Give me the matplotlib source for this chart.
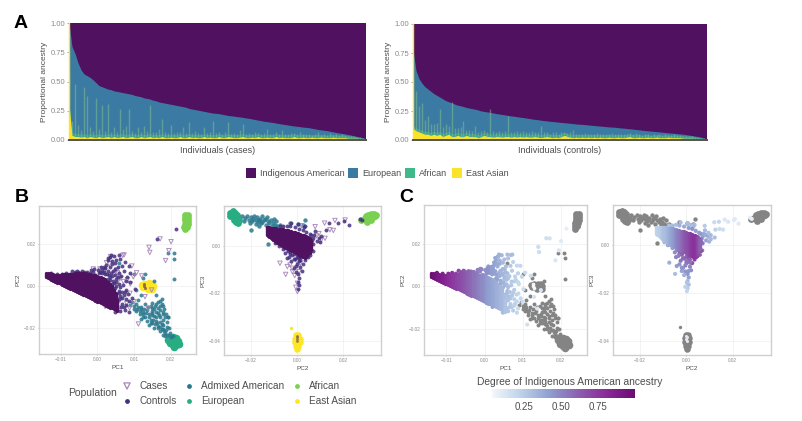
import matplotlib
matplotlib.use("Agg")
import matplotlib.pyplot as plt
from matplotlib.colors import LinearSegmentedColormap, Normalize
from matplotlib.cm import ScalarMappable
from matplotlib.patches import Rectangle

plt.rcParams['font.family'] = ['Liberation Sans', 'DejaVu Sans']

# panel A, one value per binned individual
cases_total = [1.00,.80,.74,.66,.60,.565,.55,.535,.515,.49,
    .465,.455,.445,.435,.43,.42,.415,.41,.405,.40,
    .395,.39,.38,.375,.37,.36,.355,.35,.34,.335,
    .325,.32,.315,.31,.305,.30,.295,.29,.285,.28,
    .27,.265,.26,.255,.25,.245,.24,.235,.23,.228,
    .225,.22,.215,.21,.207,.204,.20,.197,.193,.189,
    .185,.18,.175,.17,.165,.16,.157,.153,.15,.145,
    .14,.136,.132,.128,.124,.12,.117,.114,.11,.108,
    .105,.10,.096,.09,.087,.083,.08,.075,.07,.065,
    .06,.056,.052,.047,.042,.036,.03,.024,.018,.01]
cases_african = [.30,.12,.45,.10,.06,.42,.36,.08,.05,.34,
    .06,.28,.05,.28,.05,.08,.05,.24,.06,.10,
    .24,.05,.04,.09,.04,.10,.05,.27,.05,.04,
    .07,.15,.05,.04,.10,.04,.05,.04,.09,.04,
    .12,.04,.05,.04,.03,.08,.04,.04,.14,.04,
    .04,.03,.05,.12,.03,.04,.03,.06,.11,.03,
    .04,.03,.05,.03,.03,.04,.07,.03,.03,.04,
    .03,.06,.03,.03,.04,.03,.03,.05,.03,.03,
    .03,.02,.03,.05,.02,.03,.02,.04,.02,.03,
    .02,.03,.02,.02,.02,.015,.012,.01,.006,.002]
cases_east_asian = [.30,.04,.03,.03,.025,.03,.02,.03,.025,.02,
    .03,.02,.025,.03,.02,.03,.02,.025,.03,.02,
    .025,.03,.02,.02,.03,.02,.025,.03,.02,.025,
    .02,.03,.02,.02,.025,.02,.02,.03,.02,.02,
    .03,.02,.025,.02,.02,.03,.02,.025,.02,.02,
    .03,.02,.02,.03,.025,.02,.02,.025,.03,.02,
    .02,.025,.02,.03,.02,.02,.025,.02,.02,.03,
    .02,.025,.02,.02,.02,.03,.02,.02,.025,.02,
    .02,.025,.02,.02,.025,.02,.02,.02,.025,.02,
    .02,.02,.02,.015,.015,.015,.015,.012,.01,.008]

controls_total = [.78,.60,.53,.49,.46,.44,.42,.40,.385,.37,
    .355,.34,.33,.32,.31,.30,.295,.288,.28,.275,
    .27,.265,.258,.25,.246,.242,.238,.233,.228,.224,
    .22,.216,.212,.208,.205,.201,.197,.194,.19,.186,
    .182,.178,.175,.171,.168,.165,.162,.159,.157,.154,
    .151,.149,.146,.144,.141,.138,.136,.135,.132,.13,
    .127,.125,.122,.12,.118,.115,.113,.111,.11,.107,
    .104,.102,.099,.097,.094,.091,.088,.085,.082,.08,
    .077,.075,.072,.07,.067,.065,.062,.06,.057,.055,
    .052,.05,.046,.042,.038,.034,.03,.024,.016,.005]
controls_african = [.30,.34,.22,.26,.12,.16,.10,.09,.11,.22,
    .08,.10,.07,.30,.07,.06,.08,.13,.05,.06,
    .05,.09,.05,.05,.05,.04,.24,.05,.04,.05,
    .04,.05,.18,.04,.04,.05,.04,.05,.04,.04,
    .05,.04,.04,.10,.04,.04,.03,.05,.04,.03,
    .04,.03,.03,.04,.07,.03,.03,.03,.04,.03,
    .03,.03,.04,.03,.03,.03,.03,.04,.03,.03,
    .03,.03,.03,.03,.03,.04,.03,.02,.03,.03,
    .02,.03,.02,.03,.02,.03,.02,.02,.03,.02,
    .02,.02,.02,.02,.02,.015,.012,.01,.006,.001]
controls_east_asian = [.10,.08,.07,.06,.05,.05,.04,.05,.04,.05,
    .03,.04,.05,.03,.03,.04,.03,.03,.04,.03,
    .03,.03,.02,.03,.04,.03,.03,.025,.03,.03,
    .025,.03,.03,.025,.03,.025,.03,.025,.03,.025,
    .025,.03,.025,.02,.025,.03,.025,.02,.025,.02,
    .03,.04,.03,.025,.02,.025,.02,.025,.02,.025,
    .02,.025,.02,.025,.02,.02,.025,.02,.02,.025,
    .02,.02,.025,.03,.02,.02,.025,.02,.02,.025,
    .02,.02,.025,.02,.02,.02,.025,.02,.02,.02,
    .02,.015,.015,.015,.015,.012,.012,.01,.008,.004]

# dense part of the PC1/PC2 cloud: pc1, low pc2, high pc2, ancestry
band12_x = [-.0140,-.0135,-.0130,-.0125,-.0120,-.0115,-.0110,-.0105,-.0100,-.0095,-.0090,-.0085,-.0080,-.0075,-.0070,-.0065,-.0060,-.0055,-.0050,-.0045,-.0040,-.0035,-.0030,-.0025,-.0020,-.0015,-.0010,-.0005,.0000,.0005,.0010,.0015,.0020,.0025,.0030,.0035,.0040,.0045,.0050,.0055]
band12_low = [.0042,.0036,.0032,.0027,.0024,.0020,.0016,.0012,.0008,.0003,.0000,-.0004,-.0008,-.0012,-.0016,-.0020,-.0024,-.0029,-.0033,-.0037,-.0041,-.0045,-.0049,-.0053,-.0058,-.0062,-.0066,-.0070,-.0074,-.0078,-.0082,-.0086,-.0090,-.0095,-.0099,-.0103,-.0107,-.0112,-.0116,-.0120]
band12_high = [.0062,.0062,.0060,.0057,.0055,.0054,.0053,.0053,.0054,.0055,.0056,.0056,.0057,.0058,.0058,.0059,.0060,.0060,.0060,.0060,.0060,.0060,.0060,.0058,.0056,.0054,.0052,.0050,.0048,.0045,.0042,.0038,.0032,.0026,.0018,.0008,-.0002,-.0018,-.0035,-.0065]
band12_anc = [.98,.96,.94,.92,.90,.88,.86,.84,.82,.80,.78,.76,.74,.72,.70,.69,.67,.65,.63,.62,.60,.58,.56,.55,.53,.51,.49,.48,.46,.44,.42,.41,.39,.38,.36,.35,.33,.32,.30,.28]

# dense part of the PC2/PC3 cloud
band23_x = [-.0130,-.0125,-.0120,-.0115,-.0110,-.0105,-.0100,-.0095,-.0090,-.0085,-.0080,-.0075,-.0070,-.0065,-.0060,-.0055,-.0050,-.0045,-.0040,-.0035,-.0030,-.0025,-.0020,-.0015,-.0010,-.0005,.0000,.0005,.0010,.0015,.0020,.0025,.0030,.0035,.0040,.0045,.0050,.0055,.0060]
band23_low = [.0046,.0042,.0038,.0034,.0030,.0026,.0023,.0020,.0016,.0012,.0009,.0006,.0002,.0000,-.0002,-.0005,-.0007,-.0010,-.0012,-.0014,-.0016,-.0018,-.0021,-.0024,-.0027,-.0030,-.0033,-.0036,-.0039,-.0042,-.0044,-.0046,-.0048,-.0049,-.0048,-.0044,-.0036,-.0028,-.0016]
band23_high = [.0078,.0078,.0078,.0077,.0077,.0076,.0075,.0075,.0074,.0073,.0073,.0072,.0072,.0071,.0070,.0069,.0068,.0066,.0065,.0064,.0062,.0061,.0060,.0059,.0058,.0056,.0054,.0053,.0051,.0049,.0048,.0046,.0044,.0042,.0040,.0038,.0036,.0032,.0020]
band23_anc = [.22,.22,.24,.24,.26,.27,.29,.30,.31,.33,.34,.36,.38,.40,.42,.44,.46,.48,.50,.52,.54,.56,.58,.60,.62,.64,.66,.68,.70,.72,.74,.76,.78,.78,.76,.72,.68,.64,.60]
core23 = [(.0018,-.0010),(.0025,-.0005),(.0032,-.0002),(.0040,.0002),(.0048,.0000),(.0022,-.0020),(.0030,-.0015),(.0038,-.0012),(.0046,-.0010),(.0028,-.0028),(.0036,-.0025),(.0044,-.0022),(.0034,-.0035),(.0042,-.0032),(.0028,.0008),(.0036,.0010),(.0020,.0004)]

# (pc1, pc2, ancestry)
controls12 = [(-.0125,.0062,.9),(-.011,.0058,.85),(-.0095,.0058,.8),(-.0085,.0062,.78),(-.0075,.0058,.72),(-.0068,.0072,.7),(-.0055,.0072,.65),(-.0048,.0063,.62),(-.0035,.0068,.58),(-.0028,.0066,.55),
    (-.0018,.0076,.52),(-.0008,.0079,.5),(.0002,.0075,.47),(.0012,.0078,.45),(.0022,.0084,.42),(.0028,.0070,.4),(.0038,.0062,.35),(.0048,.0080,.32),(.0056,.0092,.3),(.0075,.0113,.22),
    (.0085,.0096,.2),(.0065,.0046,.28),(.0052,.0035,.32),(.0035,.0045,.37),(.0020,.0055,.42),(.0005,.0060,.46),(-.0005,.0052,.48),(.0045,.0015,.34),(.0058,.0008,.3),(.0070,.0004,.27),
    (.0048,-.0008,.33),(.0060,-.0022,.3),(.0072,-.0045,.27),(.0055,-.0075,.29),(.0068,-.0085,.25),(.0078,-.0062,.23),(.0085,-.0072,.2),(.0095,-.0058,.2),(.0075,-.0115,.24),(.0062,-.0118,.27),
    (.0048,-.0125,.3),(.0085,-.0125,.2),(.0102,-.0015,.18),(.0162,.0225,.16),(.0215,.0270,.08),(.0088,.0060,.22),(.0040,.0105,.36),(.0030,.0122,.38),(.0062,.0130,.28),(.0034,.0030,.38),
    (.0030,.0035,.4),(.0042,.0025,.36),(.0050,.0018,.34),(.0030,.0018,.4),(.0040,.0008,.38),(.0052,.0002,.33),(.0062,-.0005,.3),(.0058,-.0035,.31),(.0066,-.0028,.28),(.0062,-.0048,.3),
    (.0068,-.0058,.27),(.0060,-.0062,.3),(.0075,-.0030,.26),(.0078,-.0018,.25),(.0084,-.0040,.22),(.0072,-.0098,.24),(.0065,-.0100,.27),(.0078,-.0092,.22),(.0012,.0062,.44),(.0018,.0068,.43),
    (.0026,.0058,.41),(.0032,.0052,.39),(.0040,.0048,.36),(.0048,.0052,.33),(.0056,.0042,.31),(.0060,.0060,.3),(.0042,.0072,.34),(.0034,.0092,.36),(.0025,.0098,.4),(.0018,.0090,.42),
    (.0010,.0092,.44),(.0048,.0110,.32),(.0040,.0120,.34),(.0052,.0125,.3),(.0068,.0095,.26),(.0072,.0072,.25),(.0080,.0045,.22),(.0078,.0022,.24),(.0088,.0018,.2),(.0035,.0138,.36),
    (.0045,.0145,.33),(.0038,.0148,.34),(.0028,.0132,.38),(.0060,.0148,.3),(-.0042,.0070,.6),(-.0052,.0068,.63),(-.0012,.0068,.5),(-.0020,.0062,.52),(.0008,.0068,.46),(-.0062,.0065,.66)]
cases12 = [(.0171,.0224,.15),(.0201,.0211,.1),(.0141,.0184,.17),(.0143,.0160,.17),(.0186,.0121,.12),(.0195,.0168,.12),(.0036,.0140,.35),(.0069,.0146,.3),(.0073,.0148,.3),(.0025,.0111,.4),
    (.0033,.0105,.38),(-.0011,.0081,.5),(.0007,.0081,.46),(.0053,.0076,.32),(.0055,.0063,.32),(.0094,.0095,.2),(.0107,.0063,.18),(.0121,.0048,.17),(.0098,.0044,.2),(.0062,.0037,.28),
    (.0071,.0021,.26),(.0112,-.0181,.15),(.0130,-.0051,.14),(.0148,-.0019,.12),(.0044,-.0019,.33),(.0025,-.0035,.36),(.0062,-.0067,.28),(.0080,-.0083,.22),(.0021,-.0098,.4),(.0089,-.0035,.2),(.0139,-.0106,.12),
    (.0046,.0060,.33),(.0058,.0030,.3),(.0082,.0030,.22),(.0090,.0010,.2),(.0100,-.0075,.16),(.0088,-.0105,.18),(.0020,.0072,.42),(.0058,-.0105,.28)]
admixed12 = [(.0095,-.0075),(.0105,-.0085),(.0110,-.0100),(.0100,-.0110),(.0115,-.0120),(.0120,-.0100),(.0125,-.0135),(.0130,-.0085),(.0135,-.0115),(.0130,-.0150),
    (.0140,-.0135),(.0145,-.0160),(.0150,-.0120),(.0155,-.0145),(.0150,-.0175),(.0160,-.0165),(.0165,-.0190),(.0170,-.0150),(.0175,-.0180),(.0180,-.0205),
    (.0185,-.0225),(.0170,-.0215),(.0190,-.0195),(.0195,-.0235),(.0200,-.0245),(.0178,-.0235),(.0160,-.0085),(.0170,-.0070),(.0175,-.0085),(.0180,-.0095),
    (.0165,-.0105),(.0172,-.0115),(.0180,-.0125),(.0150,-.0080),(.0145,-.0095),(.0155,-.0110),(.0185,-.0150),(.0190,-.0170),(.0192,-.0150),(.0140,-.0185),
    (.0155,-.0200),(.0165,-.0130),(.0178,-.0135),(.0120,-.0155),(.0175,-.0060),(.0110,-.0065),(.0192,.0155),(.0210,.0130),(.0208,.0155),(.0210,.0035),
    (.0192,-.0150),(.0130,.0055),(.0125,.0040),(.0155,.0025),(.0100,.0055),(.0060,.0110),(.0105,-.0020),(.0120,-.0045),(.0160,-.0045),
    (.0090,-.0090),(.0100,-.0095),(.0108,-.0108),(.0118,-.0112),(.0125,-.0125),(.0133,-.0128),(.0140,-.0148),(.0148,-.0140),(.0152,-.0160),(.0160,-.0150),
    (.0162,-.0178),(.0170,-.0170),(.0172,-.0195),(.0180,-.0185),(.0182,-.0215),(.0188,-.0210),(.0190,-.0235),(.0198,-.0225),(.0185,-.0240),(.0205,-.0240),
    (.0150,-.0105),(.0158,-.0095),(.0165,-.0078),(.0172,-.0095),(.0182,-.0108),(.0186,-.0135),(.0160,-.0122),(.0148,-.0130),(.0138,-.0100),(.0128,-.0110),
    (.0195,-.0200),(.0168,-.0140),(.0178,-.0160),(.0158,-.0180),(.0145,-.0175),(.0135,-.0165),(.0125,-.0150),(.0115,-.0135),(.0105,-.0118),(.0175,-.0205),(.0165,-.0200)]
european12 = [(.0192,-.0255),(.0205,-.0245),(.0215,-.0250),(.0200,-.0265),(.0210,-.0265),(.0218,-.0268),(.0205,-.0280),(.0215,-.0282),(.0210,-.0290),(.0198,-.0272),(.0220,-.0260),(.0212,-.0275),(.0222,-.0275)]
african12 = [(.0240,.0340),(.0248,.0340),(.0240,.0325),(.0248,.0325),(.0240,.0312),(.0247,.0310),(.0238,.0295),(.0246,.0295),(.0237,.0280),(.0244,.0280),(.0238,.0270),(.0244,.0318),(.0242,.0288),(.0244,.0303)]
east_asian12 = [(.0122,.0005),(.0130,.0010),(.0140,.0012),(.0148,.0008),(.0125,-.0005),(.0135,-.0003),(.0145,-.0002),(.0152,.0000),(.0138,-.0012),(.0150,-.0014),(.0130,.0000),(.0142,.0004)]
east_asian_hits12 = [(.0128,.0000),(.0130,-.0008),(.0128,.0008)]

controls23 = [(-.004,-.002,.55),(-.003,-.0035,.55),(-.0045,-.005,.5),(-.002,-.004,.6),(-.0025,-.0065,.55),(-.001,-.0055,.6),(0,-.0075,.55),(.0005,-.0045,.65),(.001,-.0065,.62),(.0015,-.009,.5),
    (-.0005,-.011,.45),(.0005,-.012,.45),(.001,-.0135,.4),(.0005,-.015,.32),(.001,-.0165,.3),(.0005,-.018,.25),(.0018,-.0045,.7),(.0025,-.0035,.75),(.0035,-.006,.72),(-.0015,-.0095,.45),
    (.0025,-.0075,.65),(.007,.0035,.42),(.0085,.002,.4),(.0075,.0048,.38),(.0095,.0035,.35),(.0105,.0042,.32),(.0065,.0025,.5),(.006,.0048,.45),(.007,.0008,.55),(.0098,.0015,.35),
    (.0125,.0065,.22),(.014,.0098,.2),(.018,.0098,.12),(.0205,.0105,.1),(.0225,.0090,.1),(.0275,.0115,.08),(.0282,.0110,.08),(-.0045,.0085,.3),(-.0025,.0095,.3),(.0005,.0092,.3),(.0035,.0085,.3),(.003,.0078,.32),
    (-.0060,-.0012,.42),(-.0050,-.0030,.48),(-.0035,-.0045,.52),(-.0015,-.0055,.58),(-.0030,-.0025,.58),(-.0015,-.0032,.62),(.0000,-.0048,.62),(.0010,-.0052,.66),(-.0080,.0000,.38),(-.0095,.0012,.32),
    (-.0075,.0082,.28),(-.0060,.0082,.3),(-.0030,.0082,.35),(-.0010,.0078,.38),(.0010,.0072,.42),(.0025,.0068,.45),(.0040,.0060,.42),(.0055,.0052,.42),(.0080,.0062,.32),(.0062,.0012,.55),
    (.0055,-.0010,.6),(.0068,-.0022,.55),(.0048,-.0045,.62),(.0058,-.0040,.6),(.0015,-.0060,.6),(-.0005,-.0085,.5),(.0020,-.0105,.48)]
cases23 = [(.0209,.0109,.1),(.0165,.0107,.12),(.012,.0096,.18),(.0143,.0068,.18),(.0158,.0065,.16),(.0085,.0042,.38),(.0122,.0032,.3),(.0079,.0081,.25),(.0062,-.0024,.72),(-.0074,-.0073,.35),
    (-.0042,-.0087,.42),(-.0049,-.012,.3),(-.002,-.0108,.4),(.0009,-.0108,.45),(.0002,-.0157,.28),(.0002,-.0192,.2),(-.0005,-.0174,.22),(-.0042,-.0017,.48),(-.0063,.0074,.32),(-.002,-.0094,.45),(.0015,-.0073,.55),(.0,-.0066,.55),
    (.0095,.0052,.3),(.0105,.0025,.32),(.0020,.0085,.3),(-.0030,-.0080,.45),(-.0010,-.0125,.35)]
admixed23 = [(-.0240,.0125),(-.0225,.0118),(-.0210,.0110),(-.0215,.0125),(-.0200,.0120),(-.0195,.0105),(-.0185,.0125),(-.0180,.0110),(-.0170,.0100),(-.0175,.0120),
    (-.0160,.0115),(-.0155,.0095),(-.0150,.0125),(-.0145,.0108),(-.0135,.0090),(-.0130,.0120),(-.0125,.0105),(-.0115,.0110),(-.0105,.0095),(-.0100,.0115),
    (-.0090,.0105),(-.0085,.0085),(-.0165,.0085),(-.0126,.0008),(.0035,.0109),(-.003,.0096),(.0004,.0093),(.0028,.0089),(-.0201,.0065),(-.0075,.0090),
    (-.0230,.0105),(-.0205,.0098),(-.0190,.0115),(-.0178,.0092),(-.0165,.0108),(-.0150,.0100),(-.0140,.0115),(-.0120,.0095),(-.0110,.0085),(-.0095,.0090)]
european23 = [(-.0290,.0140),(-.0280,.0145),(-.0270,.0140),(-.0260,.0130),(-.0290,.0125),(-.0280,.0125),(-.0270,.0120),(-.0260,.0115),(-.0275,.0110),(-.0265,.0100),(-.0255,.0095),(-.0250,.0110),(-.0285,.0132),(-.0268,.0130),(-.0262,.0105)]
african23 = [(.0290,.0115),(.0300,.0125),(.0310,.0130),(.0320,.0135),(.0335,.0135),(.0340,.0125),(.0300,.0110),(.0315,.0115),(.0330,.0120),(.0280,.0110),(.0305,.0100),(.0322,.0110),(.0345,.0132)]
east_asian23 = [(-.0004,-.0375),(.0006,-.0375),(-.0008,-.0390),(.0002,-.0390),(.0012,-.0390),(-.0008,-.0405),(.0002,-.0405),(.0012,-.0405),(-.0004,-.0420),(.0006,-.0420),(.0001,-.0432)]
east_asian_stray23 = [(-.0027,-.0344)]
east_asian_hits23 = [(-.0002,-.0380),(.0002,-.0385),(-.0001,-.0392),(.0001,-.0400)]

# ticks and limits taken from the pixel positions of the tick labels
lim12 = (-.0159, .0269, -.0324, .0381)
lim23 = (-.0317, .0365, -.0459, .0168)
ticks1 = [-.01, 0, .01, .02]
ticks2 = [-.02, 0, .02]
ticks3 = [-.04, -.02, 0]

C_IND, C_EUR, C_AFR, C_EA = "#4f1160", "#3b7aa3", "#3fb98a", "#fbe32c"
C_CTRL, C_ADM, C_EURO, C_AFRO, C_EAST = "#46307e", "#2a788e", "#27ad81", "#7ad151", "#fde725"
C_CASE = "#a884b8"
GREY = "#848484"
TXT = "#4d4d4d"
anc_cmap = LinearSegmentedColormap.from_list("anc", ["#f2f7fc", "#bdd2e9", "#8f9fd0", "#8c60b0", "#8a2a98", "#6a0a72"])
anc_norm = Normalize(.03, 1.0)

W, H = 803, 421
fig = plt.figure(figsize=(W / 100, H / 100), dpi=100)


def axes_px(x0, y0, x1, y1):
    return fig.add_axes([x0 / W, 1 - y1 / H, (x1 - x0) / W, (y1 - y0) / H])


def ftext(x, y, s, **kw):
    kw.setdefault("va", "center")
    kw.setdefault("color", TXT)
    fig.text(x / W, 1 - y / H, s, **kw)


def ancestry_panel(box, total, african, east_asian, xlabel):
    ax = axes_px(*box)
    xs = list(range(len(total)))
    ax.set_facecolor(C_IND)
    ax.fill_between(xs, 0, total, color=C_EUR, lw=0)
    # thin spikes on a low green haze, yellow last so it stays on the floor
    haze = [min(a, .025) + e for a, e in zip(african, east_asian)]
    ax.fill_between(xs, 0, haze, color=C_AFR, lw=0, alpha=.6)
    spike_top = [a + e for a, e in zip(african, east_asian)]
    ax.vlines(xs, east_asian, spike_top, color="#86c48a", lw=1.0, alpha=.5)
    ax.fill_between(xs, 0, east_asian, color=C_EA, lw=0)
    ax.set_xlim(0, len(total) - 1)
    ax.set_ylim(0, 1)
    ax.set_xticks([])
    ax.set_yticks([0, .25, .5, .75, 1])
    ax.set_yticklabels(["0.00", "0.25", "0.50", "0.75", "1.00"])
    ax.tick_params(axis="y", labelsize=5.5, length=1.5, width=.5, colors="#8a8a8a", pad=1)
    for s in ["top", "right"]:
        ax.spines[s].set_visible(False)
    ax.spines["left"].set_color(C_EA)
    ax.spines["left"].set_linewidth(1.0)
    ax.spines["bottom"].set_color("#55534a")
    ax.spines["bottom"].set_linewidth(1.4)
    ax.set_ylabel("Proportional ancestry", fontsize=6, color=TXT, labelpad=2)
    ax.set_xlabel(xlabel, fontsize=6.5, color=TXT, labelpad=4)
    return ax


def pca_axes(box, lim, xt, yt, xl, yl):
    ax = axes_px(*box)
    ax.set_xlim(lim[0], lim[1])
    ax.set_ylim(lim[2], lim[3])
    ax.set_xticks(xt)
    ax.set_xticklabels([f"{v:.2f}".replace("-", "\u2212") for v in xt])
    ax.set_yticks(yt)
    ax.set_yticklabels([f"{v:.2f}".replace("-", "\u2212") for v in yt])
    ax.tick_params(labelsize=3.4, length=1, width=.4, colors="#8a8a8a", pad=1.5)
    ax.set_xlabel(xl, fontsize=4.6, color=TXT, labelpad=2)
    ax.set_ylabel(yl, fontsize=4.6, color=TXT, labelpad=2)
    ax.grid(True, color="#eeeeee", lw=.5)
    ax.set_axisbelow(True)
    for s in ax.spines.values():
        s.set_color("#cfcfcf")
        s.set_linewidth(1)
    return ax


def xy(points):
    return [p[0] for p in points], [p[1] for p in points]


def dots(ax, points, color, s=8, alpha=.85, **kw):
    x, y = xy(points)
    ax.scatter(x, y, s=s, color=color, alpha=alpha, lw=0, **kw)


def triangles(ax, points):
    x, y = xy(points)
    ax.scatter(x, y, s=10, marker="v", facecolors="none", edgecolors=C_CASE, linewidths=.7, alpha=.9)


def graded(ax, points, **kw):
    x, y = xy(points)
    ax.scatter(x, y, s=9, c=[p[2] for p in points], cmap=anc_cmap, norm=anc_norm, lw=0, **kw)


ancestry_panel((69, 23, 366, 140), cases_total, cases_african, cases_east_asian, "Individuals (cases)")
ancestry_panel((413, 24, 707, 140), controls_total, controls_african, controls_east_asian, "Individuals (controls)")

# legend of panel A
for x0, col, x1, label in [(246, C_IND, 260, "Indigenous American"), (348, C_EUR, 362, "European"),
                           (405, C_AFR, 419, "African"), (452, C_EA, 466, "East Asian")]:
    fig.add_artist(Rectangle((x0 / W, 1 - 178 / H), 10 / W, 10 / H, color=col, lw=0, transform=fig.transFigure))
    ftext(x1, 173, label, fontsize=6.5)

# panel B
ax = pca_axes((39, 206, 196, 354), lim12, ticks1, ticks2, "PC1", "PC2")
dots(ax, east_asian12, C_EAST, s=30, alpha=1)
dots(ax, european12, C_EURO, s=30, alpha=1)
dots(ax, african12, C_AFRO, s=24, alpha=1)
dots(ax, admixed12, C_ADM)
ax.vlines(band12_x, band12_low, band12_high, color=C_IND, lw=2.4, capstyle="round")
triangles(ax, cases12)
dots(ax, controls12, C_CTRL)
dots(ax, east_asian_hits12, "#8a5a50", s=5)

ax = pca_axes((224, 206, 381, 355), lim23, ticks2, ticks3, "PC2", "PC3")
dots(ax, east_asian23, C_EAST, s=22, alpha=1)
dots(ax, east_asian_stray23, C_EAST, s=6, alpha=1)
dots(ax, european23, C_EURO, s=24, alpha=1)
dots(ax, african23, C_AFRO, s=24, alpha=1)
dots(ax, admixed23, C_ADM, s=10)
ax.vlines(band23_x, band23_low, band23_high, color=C_IND, lw=2.4, capstyle="round")
triangles(ax, cases23)
dots(ax, controls23, C_CTRL)
dots(ax, east_asian_hits23, "#8a6a50", s=4)

# legend of panel B
ftext(68, 393, "Population", fontsize=7.5)
lax = fig.add_axes([0, 0, 1, 1], facecolor="none")
lax.set_xlim(0, W)
lax.set_ylim(H, 0)
lax.axis("off")
lax.scatter([127], [386], s=20, marker="v", facecolors="none", edgecolors=C_CASE, linewidths=.9)
for x0, y0, col in [(127, 401, C_CTRL), (189, 386, C_ADM), (189, 401, C_EURO), (297, 386, C_AFRO), (297, 401, C_EAST)]:
    lax.scatter([x0], [y0], s=12, color=col, lw=0)
for x0, y0, label in [(140, 386, "Cases"), (140, 401, "Controls"), (201, 386, "Admixed American"),
                      (201, 401, "European"), (309, 386, "African"), (309, 401, "East Asian")]:
    ftext(x0, y0, label, fontsize=7.2)

# panel C
ax = pca_axes((424, 205, 587, 355), lim12, ticks1, ticks2, "PC1", "PC2")
dots(ax, east_asian12, GREY, s=22, alpha=1)
dots(ax, european12, GREY, s=30, alpha=1)
dots(ax, african12, GREY, s=24, alpha=1)
dots(ax, admixed12, GREY, alpha=1)
ax.vlines(band12_x, band12_low, band12_high, colors=[anc_cmap(anc_norm(a)) for a in band12_anc], lw=2.4, capstyle="round")
graded(ax, controls12)
graded(ax, cases12)
dots(ax, east_asian_hits12, "#f4f6fa", s=7, alpha=1)

ax = pca_axes((613, 205, 771, 355), lim23, ticks2, ticks3, "PC2", "PC3")
dots(ax, east_asian23, GREY, s=22, alpha=1)
dots(ax, east_asian_stray23, GREY, s=6, alpha=1)
dots(ax, european23, GREY, s=24, alpha=1)
dots(ax, african23, GREY, s=24, alpha=1)
dots(ax, admixed23, GREY, s=10, alpha=1)
ax.vlines(band23_x, band23_low, band23_high, colors=[anc_cmap(anc_norm(a)) for a in band23_anc], lw=2.4, capstyle="round")
graded(ax, controls23)
graded(ax, cases23)
dots(ax, core23, "#6a0a72", s=12, alpha=1)
dots(ax, east_asian_hits23, "#dfe6ee", s=5, alpha=1)

# colour bar of panel C
ftext(477, 382, "Degree of Indigenous American ancestry", fontsize=7.4)
cax = axes_px(492, 389, 635, 398)
cb = fig.colorbar(ScalarMappable(norm=anc_norm, cmap=anc_cmap), cax=cax, orientation="horizontal")
cb.set_ticks([.25, .5, .75])
cb.set_ticklabels(["0.25", "0.50", "0.75"])
cb.ax.tick_params(labelsize=7, length=0, pad=3, labelcolor=TXT)
cb.outline.set_visible(False)

for x0, y0, letter in [(14, 23, "A"), (15, 198, "B"), (399, 198, "C")]:
    ftext(x0, y0, letter, fontsize=14, fontweight="bold", color="black")

fig.savefig("out.png", dpi=100)
